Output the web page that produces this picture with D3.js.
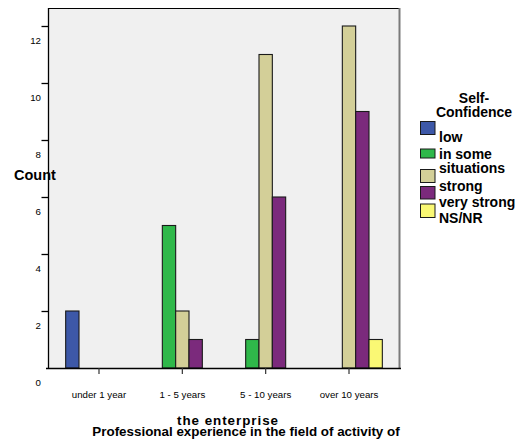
<!DOCTYPE html>
<html>
<head>
<meta charset="utf-8">
<script src="https://cdn.jsdelivr.net/npm/d3@7"></script>
<style>
  html, body { margin: 0; padding: 0; background: #fff; }
  svg { display: block; font-family: "Liberation Sans", Arial, sans-serif; }
</style>
</head>
<body>
<svg id="chart" width="522" height="445"></svg>
<script>
// ---- data ----
const categories = ["under 1 year", "1 - 5 years", "5 - 10 years", "over 10 years"];
const seriesNames = ["low", "in some situations", "strong", "very strong", "NS/NR"];
const low        = [2, 0, 0, 0];
const inSome     = [0, 5, 1, 0];
const strong     = [0, 2, 11, 12];
const veryStrong = [0, 1, 6, 9];
const nsnr       = [0, 0, 0, 1];
const yTicks = [0, 2, 4, 6, 8, 10, 12];
const legendTitle = ["Self-", "Confidence"];
const legendLines = ["low", "in some", "situations", "strong", "very strong", "NS/NR"];
const xTitleLines = ["the enterprise", "Professional experience in the field of activity of"];
const yTitle = "Count";

// ---- style ----
const colors = ["#3d58a8", "#2fb84a", "#d3cf98", "#7b2a7c", "#faf874"];
const seriesValues = [low, inSome, strong, veryStrong, nsnr];

const svg = d3.select("#chart");
const plot = { left: 48, right: 399, top: 8, bottom: 368 };

const y = d3.scaleLinear().domain([0, 12]).range([368, 26]);
const x = d3.scaleBand().domain(categories).range([57.33, 390.67]).padding(0);
const xs = d3.scaleBand().domain(seriesNames).range([-33.33, 33.33]).padding(0);

// plot background
svg.append("rect")
  .attr("x", plot.left).attr("y", plot.top)
  .attr("width", plot.right - plot.left).attr("height", plot.bottom - plot.top)
  .attr("fill", "#f0f0f0");

// frame: top black, right gray
svg.append("line").attr("x1", plot.left).attr("x2", plot.right + 1)
  .attr("y1", plot.top + 0.5).attr("y2", plot.top + 0.5)
  .attr("stroke", "#000").attr("stroke-width", 1.2);
svg.append("line").attr("x1", plot.right + 0.5).attr("x2", plot.right + 0.5)
  .attr("y1", plot.top).attr("y2", plot.bottom)
  .attr("stroke", "#7a7a7a").attr("stroke-width", 2);

// bars
const bars = [];
seriesNames.forEach((s, si) => {
  categories.forEach((c, ci) => {
    const v = seriesValues[si][ci];
    if (v > 0) bars.push({ s, si, c, v });
  });
});
svg.append("g").selectAll("rect").data(bars).join("rect")
  .attr("x", d => x(d.c) + x.bandwidth() / 2 + xs(d.s))
  .attr("y", d => y(d.v))
  .attr("width", xs.bandwidth())
  .attr("height", d => y(0) - y(d.v))
  .attr("fill", d => colors[d.si])
  .attr("stroke", "#1a1a1a")
  .attr("stroke-width", 1.1);

// y axis
const yAxis = d3.axisLeft(y).tickValues(yTicks).tickSize(0).tickSizeOuter(0)
  .tickFormat(d3.format("d"));
const gy = svg.append("g").attr("transform", `translate(${plot.left},0)`).call(yAxis);
gy.select(".domain").attr("d", `M0.5,${plot.top}V${plot.bottom}`).attr("stroke", "#000").attr("stroke-width", 1.3);
gy.selectAll(".tick text")
  .attr("x", -7).attr("dy", null).attr("y", 17)
  .attr("font-size", "9.7px").attr("fill", "#000")
  .style("font-family", "'Liberation Sans', Arial, sans-serif");
// y tick marks
svg.append("g").selectAll("path")
  .data(yTicks.filter(d => d !== 0))
  .join("path")
  .attr("d", d => `M${plot.left - 6.5},${Math.round(y(d)) + 0.5}H${plot.left}`)
  .attr("stroke", "#000").attr("stroke-width", 1.3).attr("fill", "none");

// x axis
const xAxis = d3.axisBottom(x).tickSize(6).tickSizeOuter(0);
const gx = svg.append("g").attr("transform", `translate(0,${plot.bottom})`).call(xAxis);
gx.select(".domain").attr("d", `M46,0.5H401`).attr("stroke", "#000").attr("stroke-width", 1.3);
gx.selectAll(".tick line").attr("stroke", "#333").attr("stroke-width", 1.2);
gx.selectAll(".tick text")
  .attr("y", 30).attr("dy", null)
  .attr("font-size", "9.7px").attr("fill", "#000")
  .style("font-family", "'Liberation Sans', Arial, sans-serif");

// axis titles
svg.append("text").attr("x", 14).attr("y", 180)
  .attr("font-size", "14.5px").attr("font-weight", "bold").text(yTitle);
svg.append("text").attr("x", 227.5).attr("y", 425).attr("text-anchor", "middle")
  .attr("font-size", "13.4px").attr("font-weight", "bold")
  .attr("textLength", 101).attr("lengthAdjust", "spacing").text(xTitleLines[0]);
svg.append("text").attr("x", 246).attr("y", 435.5).attr("text-anchor", "middle")
  .attr("font-size", "13.4px").attr("font-weight", "bold").text(xTitleLines[1]);

// legend
const lg = svg.append("g");
lg.append("text").attr("x", 474).attr("y", 103).attr("text-anchor", "middle")
  .attr("font-size", "14px").attr("font-weight", "bold").text(legendTitle[0]);
lg.append("text").attr("x", 474).attr("y", 117).attr("text-anchor", "middle")
  .attr("font-size", "14px").attr("font-weight", "bold").text(legendTitle[1]);

const swatchTop = [121.5, 149, 169.5, 186.5, 204];
const swatchH = [13, 9, 13, 12.5, 13.5];
seriesNames.forEach((s, i) => {
  lg.append("rect").attr("x", 420.5).attr("y", swatchTop[i])
    .attr("width", 14.5).attr("height", swatchH[i])
    .attr("fill", colors[i]).attr("stroke", "#1a1a1a").attr("stroke-width", 1);
});
const lineBase = [142, 158.5, 173, 191, 207, 222.5];
legendLines.forEach((t, i) => {
  lg.append("text").attr("x", 439).attr("y", lineBase[i])
    .attr("font-size", "14px").attr("font-weight", "bold").text(t);
});
</script>
</body>
</html>
